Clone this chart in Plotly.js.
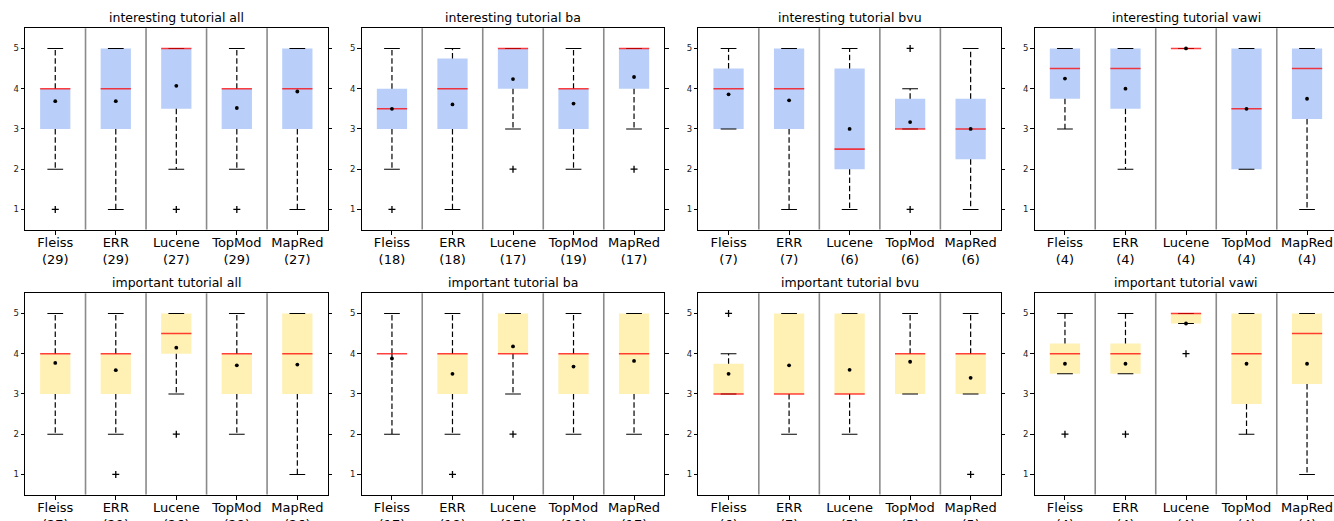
<!DOCTYPE html>
<html>
<head>
<meta charset="utf-8">
<script src="https://cdn.plot.ly/plotly-3.0.1.min.js"></script>
<style>
html,body{margin:0;padding:0;overflow:hidden;background:#fff;}
#chart{width:1340px;height:540px;}
</style>
</head>
<body>
<div id="chart"></div>
<script>
// ---- data ----
const categories = ['Fleiss', 'ERR', 'Lucene', 'TopMod', 'MapRed'];
const panelTitles = [
  'interesting tutorial all', 'interesting tutorial ba', 'interesting tutorial bvu', 'interesting tutorial vawi',
  'important tutorial all', 'important tutorial ba', 'important tutorial bvu', 'important tutorial vawi'
];
const counts = [
  [29, 29, 27, 29, 27], [18, 18, 17, 19, 17], [7, 7, 6, 6, 6], [4, 4, 4, 4, 4],
  [27, 29, 26, 28, 26], [17, 18, 17, 19, 17], [6, 7, 5, 5, 5], [4, 4, 4, 4, 4]
];
const whiskerLow = [
  [2, 1, 2, 2, 1], [2, 1, 3, 2, 3], [3, 1, 1, 3, 1], [3, 2, 5, 2, 1],
  [2, 2, 3, 2, 1], [2, 2, 3, 2, 2], [3, 2, 2, 3, 3], [3.5, 3.5, 4.75, 2, 1]
];
const q1 = [
  [3, 3, 3.5, 3, 3], [3, 3, 4, 3, 4], [3, 3, 2, 3, 2.25], [3.75, 3.5, 5, 2, 3.25],
  [3, 3, 4, 3, 3], [4, 3, 4, 3, 3], [3, 3, 3, 3, 3], [3.5, 3.5, 4.75, 2.75, 3.25]
];
const medians = [
  [4, 4, 5, 4, 4], [3.5, 4, 5, 4, 5], [4, 4, 2.5, 3, 3], [4.5, 4.5, 5, 3.5, 4.5],
  [4, 4, 4.5, 4, 4], [4, 4, 4, 4, 4], [3, 3, 3, 4, 4], [4, 4, 5, 4, 4.5]
];
const q3 = [
  [4, 5, 5, 4, 5], [4, 4.75, 5, 4, 5], [4.5, 5, 4.5, 3.75, 3.75], [5, 5, 5, 5, 5],
  [4, 4, 5, 4, 5], [4, 4, 5, 4, 5], [3.75, 5, 5, 4, 4], [4.25, 4.25, 5, 5, 5]
];
const whiskerHigh = [
  [5, 5, 5, 5, 5], [5, 5, 5, 5, 5], [5, 5, 5, 4, 5], [5, 5, 5, 5, 5],
  [5, 5, 5, 5, 5], [5, 5, 5, 5, 5], [4, 5, 5, 5, 5], [5, 5, 5, 5, 5]
];
const means = [
  [3.69, 3.69, 4.07, 3.52, 3.93], [3.5, 3.61, 4.24, 3.63, 4.29], [3.86, 3.71, 3.0, 3.17, 3.0], [4.25, 4.0, 5.0, 3.5, 3.75],
  [3.77, 3.59, 4.15, 3.71, 3.73], [3.88, 3.5, 4.18, 3.68, 3.82], [3.5, 3.71, 3.6, 3.8, 3.4], [3.75, 3.75, 4.75, 3.75, 3.75]
];
const fliers = [
  [[1], [], [1], [1], []], [[1], [], [2], [], [2]], [[], [], [], [1, 5], []], [[], [], [], [], []],
  [[], [1], [2], [], []], [[], [1], [2], [], []], [[5], [], [], [], [1]], [[2], [2], [4], [], []]
];

// ---- style / layout geometry ----
const W = 1340, H = 540;
const colLeft = [25, 361.7, 698.3, 1034.7], plotW = 302.6;
const rowTop = [28.3, 293.3], plotH = 201.3;
const boxFill = ['#b9cff9', '#fff0b4'];
const boxHalf = 0.25, capHalf = 0.13;
const font = 'DejaVu Sans, Liberation Sans, sans-serif';

const traces = [];
const layout = {
  width: W, height: H, margin: {l: 0, r: 0, t: 0, b: 0},
  paper_bgcolor: '#fff', plot_bgcolor: '#fff', showlegend: false,
  font: {family: font, color: '#000'},
  shapes: [], annotations: []
};

for (let p = 0; p < 8; p++) {
  const row = Math.floor(p / 4), col = p % 4;
  const k = p + 1;
  const xa = 'x' + (k === 1 ? '' : k), ya = 'y' + (k === 1 ? '' : k);
  const xd = [colLeft[col] / W, (colLeft[col] + plotW) / W];
  const yd = [1 - (rowTop[row] + plotH) / H, 1 - rowTop[row] / H];
  const xs = categories.map((c, i) => i + 1);

  layout['xaxis' + (k === 1 ? '' : k)] = {
    domain: xd, anchor: ya, range: [0.5, categories.length + 0.5],
    tickmode: 'array', tickvals: xs,
    ticktext: categories.map((c, i) => c + '<br>(' + counts[p][i] + ')'),
    ticks: 'outside', ticklen: 4, tickcolor: '#000', tickwidth: 1,
    ticklabelstandoff: -3,
    showline: true, mirror: true, linecolor: '#000', linewidth: 1,
    showgrid: false, zeroline: false, fixedrange: true,
    tickfont: {family: font, size: 13, color: '#000'}
  };
  layout['yaxis' + (k === 1 ? '' : k)] = {
    domain: yd, anchor: xa, range: [0.5, 5.5],
    tickmode: 'array', tickvals: [1, 2, 3, 4, 5],
    ticks: 'outside', ticklen: 3.5, tickcolor: '#000', tickwidth: 1,
    showline: true, mirror: 'ticks', linecolor: '#000', linewidth: 1,
    showgrid: false, zeroline: false, fixedrange: true,
    tickfont: {family: font, size: 8.5, color: '#222'}
  };

  // separators between categories
  for (let i = 1; i < categories.length; i++) {
    layout.shapes.push({
      type: 'line', xref: xa, yref: ya + ' domain', x0: i + 0.5, x1: i + 0.5, y0: 0, y1: 1,
      line: {color: '#8a8a8a', width: 1.6}, layer: 'above'
    });
  }
  // title
  layout.annotations.push({
    xref: 'paper', yref: 'paper', x: (xd[0] + xd[1]) / 2, y: yd[1],
    xanchor: 'center', yanchor: 'bottom', yshift: 1, showarrow: false,
    text: panelTitles[p], font: {family: font, size: 12.5, color: '#000'}
  });

  // boxes
  xs.forEach((x, i) => {
    traces.push({
      type: 'scatter', mode: 'lines', xaxis: xa, yaxis: ya, hoverinfo: 'skip',
      x: [x - boxHalf, x + boxHalf, x + boxHalf, x - boxHalf, x - boxHalf],
      y: [q1[p][i], q1[p][i], q3[p][i], q3[p][i], q1[p][i]],
      fill: 'toself', fillcolor: boxFill[row], line: {width: 0, color: boxFill[row]}
    });
  });

  // whiskers (dashed)
  const wx = [], wy = [];
  xs.forEach((x, i) => {
    if (whiskerLow[p][i] < q1[p][i]) { wx.push(x, x, null); wy.push(q1[p][i], whiskerLow[p][i], null); }
    if (whiskerHigh[p][i] > q3[p][i]) { wx.push(x, x, null); wy.push(q3[p][i], whiskerHigh[p][i], null); }
  });
  traces.push({type: 'scatter', mode: 'lines', xaxis: xa, yaxis: ya, hoverinfo: 'skip',
    x: wx, y: wy, line: {color: '#000', width: 1.2, dash: '5.5px,2.8px'}, connectgaps: false});

  // caps
  const cx = [], cy = [];
  xs.forEach((x, i) => {
    cx.push(x - capHalf, x + capHalf, null, x - capHalf, x + capHalf, null);
    cy.push(whiskerLow[p][i], whiskerLow[p][i], null, whiskerHigh[p][i], whiskerHigh[p][i], null);
  });
  traces.push({type: 'scatter', mode: 'lines', xaxis: xa, yaxis: ya, hoverinfo: 'skip',
    x: cx, y: cy, line: {color: '#000', width: 1.1}, connectgaps: false});

  // medians
  const mx = [], my = [];
  xs.forEach((x, i) => {
    mx.push(x - boxHalf, x + boxHalf, null);
    my.push(medians[p][i], medians[p][i], null);
  });
  traces.push({type: 'scatter', mode: 'lines', xaxis: xa, yaxis: ya, hoverinfo: 'skip',
    x: mx, y: my, line: {color: 'rgba(255,0,0,0.75)', width: 1.6}, connectgaps: false});

  // means
  traces.push({type: 'scatter', mode: 'markers', xaxis: xa, yaxis: ya, hoverinfo: 'skip',
    x: xs, y: means[p], marker: {symbol: 'circle', size: 3.8, color: '#000'}});

  // fliers
  const fx = [], fy = [];
  xs.forEach((x, i) => fliers[p][i].forEach(v => { fx.push(x); fy.push(v); }));
  traces.push({type: 'scatter', mode: 'markers', xaxis: xa, yaxis: ya, hoverinfo: 'skip',
    x: fx, y: fy, marker: {symbol: 'cross-thin-open', size: 5, color: '#000', line: {width: 1.3, color: '#000'}}});
}

Plotly.newPlot('chart', traces, layout, {displayModeBar: false, staticPlot: true});
</script>
</body>
</html>
